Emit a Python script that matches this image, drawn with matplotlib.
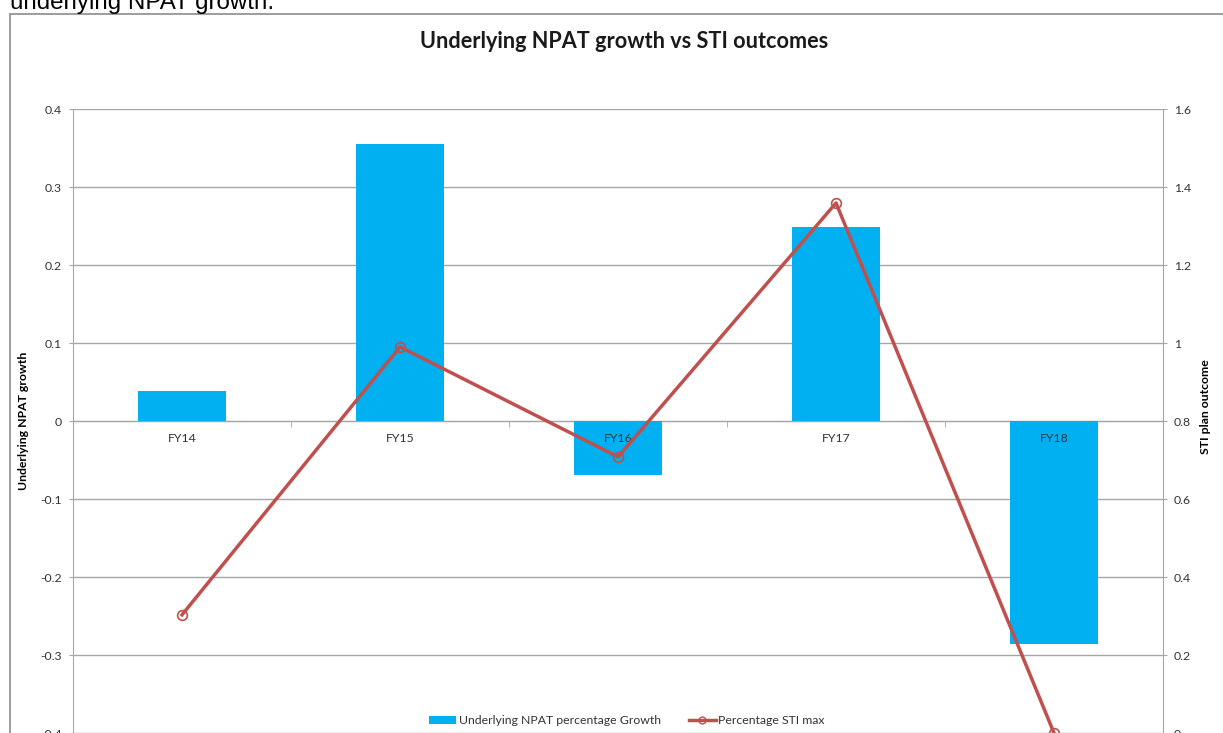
import matplotlib
matplotlib.use('Agg')
import matplotlib.pyplot as plt
from matplotlib.patches import Rectangle, Patch
from matplotlib.lines import Line2D
from matplotlib.ticker import FuncFormatter

years = ['FY14', 'FY15', 'FY16', 'FY17', 'FY18']
npat_growth = [0.038, 0.355, -0.069, 0.249, -0.286]
sti_outcome = [0.303, 0.99, 0.708, 1.359, 0.0]

plt.rcParams['font.family'] = ['Lato', 'DejaVu Sans']

bar_color = '#00B0F0'
line_color = '#C0504D'
grid_color = '#A6A6A6'
text_color = '#333333'
tick_size = 8.8

fig = plt.figure(figsize=(12.23, 7.33), dpi=100)

# chart frame (cropped screenshot: only left and top edges visible)
fig.patches.append(Rectangle((10.5 / 1223, -0.1), 1.2, 1.1 - 14 / 733,
                             transform=fig.transFigure, fill=False,
                             edgecolor='#8C8C8C', lw=1.2))
fig.text(10 / 1223, 1 - 9 / 733, 'underlying NPAT growth.', fontsize=17.4,
         family='Liberation Sans', va='baseline', ha='left', color='black')

ax = fig.add_axes([73 / 1223, 0, (1163 - 73) / 1223, 1 - 109 / 733])
x = list(range(len(years)))
ax.bar(x, npat_growth, width=0.4, color=bar_color, zorder=2,
       label='Underlying NPAT percentage Growth')
ax.set_xlim(-0.5, 4.5)
ax.set_ylim(-0.4, 0.4)
ax.set_yticks([-0.4, -0.3, -0.2, -0.1, 0, 0.1, 0.2, 0.3, 0.4])
ax.yaxis.set_major_formatter(FuncFormatter(lambda v, p: f'{v:g}'))
ax.grid(axis='y', color=grid_color, lw=1)
ax.set_axisbelow(True)
ax.xaxis.set_zorder(5)

ax.spines['top'].set_visible(False)
ax.spines['right'].set_visible(False)
ax.spines['left'].set_color(grid_color)
ax.spines['bottom'].set_position(('data', 0))
ax.spines['bottom'].set_color(grid_color)
ax.spines['bottom'].set_zorder(1)

ax.set_xticks(x)
ax.set_xticklabels(years)
ax.set_xticks([0.5, 1.5, 2.5, 3.5], minor=True)
ax.tick_params(axis='x', which='major', length=0, pad=9, labelsize=tick_size,
               labelcolor=text_color)
ax.tick_params(axis='x', which='minor', length=4, color=grid_color)
ax.tick_params(axis='y', length=3, pad=5, color=grid_color, labelsize=tick_size,
               labelcolor=text_color)
ax.set_ylabel('Underlying NPAT growth', fontsize=8.8, fontweight='bold')
ax.yaxis.set_label_coords((29 - 73) / 1090, 0.5)

ax2 = ax.twinx()
ax2.plot(x, sti_outcome, color=line_color, lw=2.5, marker='o',
         markersize=7, markerfacecolor='none', markeredgewidth=1.2,
         clip_on=False, label='Percentage STI max', zorder=3)
ax2.set_ylim(0, 1.6)
ax2.set_yticks([0, 0.2, 0.4, 0.6, 0.8, 1.0, 1.2, 1.4, 1.6])
ax2.yaxis.set_major_formatter(FuncFormatter(lambda v, p: f'{v:g}'))
for s in ['top', 'left', 'bottom']:
    ax2.spines[s].set_visible(False)
ax2.spines['right'].set_color(grid_color)
ax2.tick_params(axis='y', length=3, pad=5, color=grid_color, labelsize=tick_size,
                labelcolor=text_color)
ax2.set_ylabel('STI plan outcome', fontsize=8.8, fontweight='bold')
ax2.yaxis.set_label_coords((1200 - 73) / 1090, (733 - 407) / 624)

fig.text(624 / 1223, 1 - 41 / 733, 'Underlying NPAT growth vs STI outcomes',
         fontsize=15.6, fontweight='bold', ha='center', va='center',
         color='#1a1a1a')

handles = [Patch(facecolor=bar_color, edgecolor='none'),
           Line2D([0], [0], color=line_color, lw=2.5, marker='o',
                  markersize=5, markerfacecolor='none')]
leg = fig.legend(handles, ['Underlying NPAT percentage Growth', 'Percentage STI max'],
                 loc='center', bbox_to_anchor=(627 / 1223, 1 - 721 / 733),
                 ncol=2, frameon=False, fontsize=8.8, handlelength=2.2,
                 handleheight=0.6, handletextpad=0.2, columnspacing=2.3)
for t in leg.get_texts():
    t.set_color(text_color)

fig.savefig('out.png', dpi=100)
